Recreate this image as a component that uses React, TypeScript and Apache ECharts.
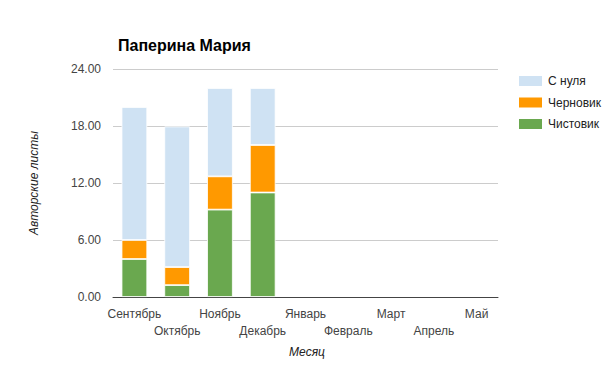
import React, { useEffect, useRef } from "react";
import * as echarts from "echarts";

const months = ["Сентябрь", "Октябрь", "Ноябрь", "Декабрь", "Январь", "Февраль", "Март", "Апрель", "Май"];
const chistovik = [4, 1.25, 9.2, 11, null, null, null, null, null];
const chernovik = [2, 1.9, 3.5, 5, null, null, null, null, null];
const sNulya = [14, 14.8, 9.3, 6, null, null, null, null, null];
const yTicks = [0, 6, 12, 18, 24];

export default function App() {
  const ref = useRef<HTMLDivElement>(null);
  useEffect(() => {
    const chart = echarts.init(ref.current!, null, { renderer: "svg" });
    const font = "Arial, 'Liberation Sans', sans-serif";
    chart.setOption({
      animation: false,
      textStyle: { fontFamily: font },
      title: {
        text: "Паперина Мария",
        left: 113,
        top: 32,
        textStyle: { fontSize: 16, fontWeight: "bold", color: "#000", fontFamily: font },
      },
      legend: {
        orient: "vertical",
        left: 512,
        top: 69,
        itemWidth: 25,
        itemHeight: 12,
        itemGap: 7.5,
        icon: "rect",
        data: ["С нуля", "Черновик", "Чистовик"],
        textStyle: { fontSize: 12, color: "#222", fontFamily: font },
      },
      grid: { left: 113, right: 107, top: 69, bottom: 69 },
      xAxis: {
        type: "category",
        data: months,
        axisTick: { show: false },
        axisLine: { show: true, lineStyle: { color: "#444" } },
        axisLabel: {
          interval: 0,
          fontSize: 12,
          color: "#444",
          margin: 8,
          lineHeight: 17,
          formatter: (v: string, i: number) => (i % 2 === 1 ? "\n" + v : v),
        },
      },
      yAxis: {
        type: "value",
        min: yTicks[0],
        max: yTicks[yTicks.length - 1],
        interval: 6,
        axisLine: { show: false },
        axisTick: { show: false },
        splitLine: { lineStyle: { color: "#cccccc" } },
        axisLabel: {
          fontSize: 12,
          color: "#444",
          margin: 12,
          formatter: (v: number) => v.toFixed(2),
        },
      },
      graphic: [
        {
          type: "text",
          x: 34,
          y: 183,
          rotation: Math.PI / 2,
          style: {
            text: "Авторские листы",
            fill: "#222",
            font: "italic 12px Arial, 'Liberation Sans', sans-serif",
            align: "center",
            verticalAlign: "middle",
          },
        },
        {
          type: "text",
          x: 307,
          y: 352,
          style: {
            text: "Месяц",
            fill: "#222",
            font: "italic 12px Arial, 'Liberation Sans', sans-serif",
            align: "center",
            verticalAlign: "middle",
          },
        },
      ],
      series: [
        {
          name: "Чистовик",
          type: "bar",
          stack: "a",
          barWidth: "60%",
          data: chistovik,
          itemStyle: { color: "#6aa84f", borderColor: "#fff", borderWidth: 0.8 },
        },
        {
          name: "Черновик",
          type: "bar",
          stack: "a",
          data: chernovik,
          itemStyle: { color: "#ff9900", borderColor: "#fff", borderWidth: 0.8 },
        },
        {
          name: "С нуля",
          type: "bar",
          stack: "a",
          data: sNulya,
          itemStyle: { color: "#cfe2f3", borderColor: "#fff", borderWidth: 0.8 },
        },
      ],
    });
    return () => chart.dispose();
  }, []);
  return <div ref={ref} style={{ width: 605, height: 366, position: "absolute", left: 0, top: 0 }} />;
}
